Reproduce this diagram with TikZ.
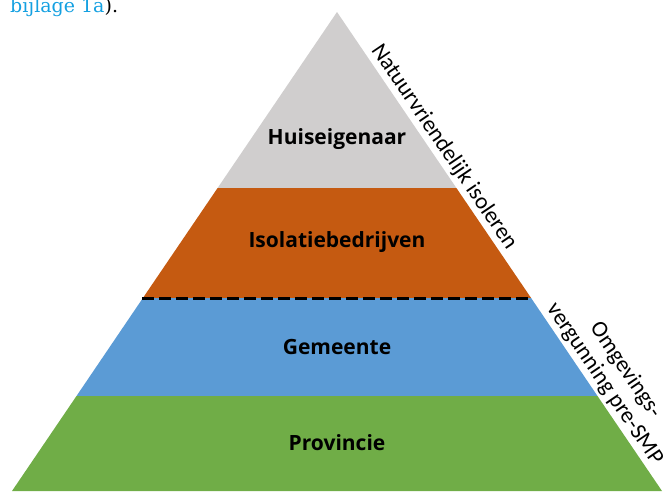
\documentclass[tikz,border=0pt]{standalone}
\usepackage{fontspec}
\setmainfont{Carlito}
\newfontfamily\labfont{Open Sans}
\newfontfamily\serfont{DejaVu Serif}
\definecolor{lgray}{RGB}{208,206,206}
\definecolor{lorange}{RGB}{197,90,17}
\definecolor{lblue}{RGB}{91,155,213}
\definecolor{lgreen}{RGB}{112,173,71}
\definecolor{linkblue}{RGB}{20,160,225}
\tikzset{
  layerlabel/.style={font=\labfont\bfseries\fontsize{21}{24}\selectfont, text=black, inner sep=0pt},
  sidelabel/.style={font=\fontsize{23}{25}\selectfont, text=black, inner sep=0pt, rotate=-55.85, align=center},
  divider/.style={draw=black, line width=3pt, dash pattern=on 12pt off 5pt}
}
\begin{document}
\begin{tikzpicture}[x=1pt,y=-1pt]
\useasboundingbox (0,0) rectangle (666,493);
\clip (0,0) rectangle (666,493);
% layers
\fill[lgray]   (337,12) -- (456.4,188) -- (217.6,188) -- cycle;
\fill[lorange] (217.6,188) -- (456.4,188) -- (531.1,298) -- (142.9,298) -- cycle;
\fill[lblue]   (142.9,298) -- (531.1,298) -- (597.5,396) -- (76.5,396) -- cycle;
\fill[lgreen]  (76.5,396) -- (597.5,396) -- (662,491) -- (12,491) -- cycle;
% dashed divider
\coordinate (dl) at (142,298);
\coordinate (dr) at (532,298);
\draw[divider] (dl) -- (dr);
% labels
\node[layerlabel] (huis) at (337,139) {Huiseigenaar};
\node[layerlabel] (iso) at (337,242) {Isolatiebedrijven};
\node[layerlabel] (gem) at (337,347) {Gemeente};
\node[layerlabel] (prov) at (337,443) {Provincie};
% side labels
\node[sidelabel] (natuur) at (444,147) {Natuurvriendelijk isoleren};
\node[sidelabel] (omg) at (615,377) {Omgevings-\\vergunning pre-SMP};
% clipped text at top
\node[anchor=base west, inner sep=0pt, font=\serfont\fontsize{19}{22}\selectfont] (bij) at (10,12) {\textcolor{linkblue}{bijlage 1a}).};
\end{tikzpicture}
\end{document}
